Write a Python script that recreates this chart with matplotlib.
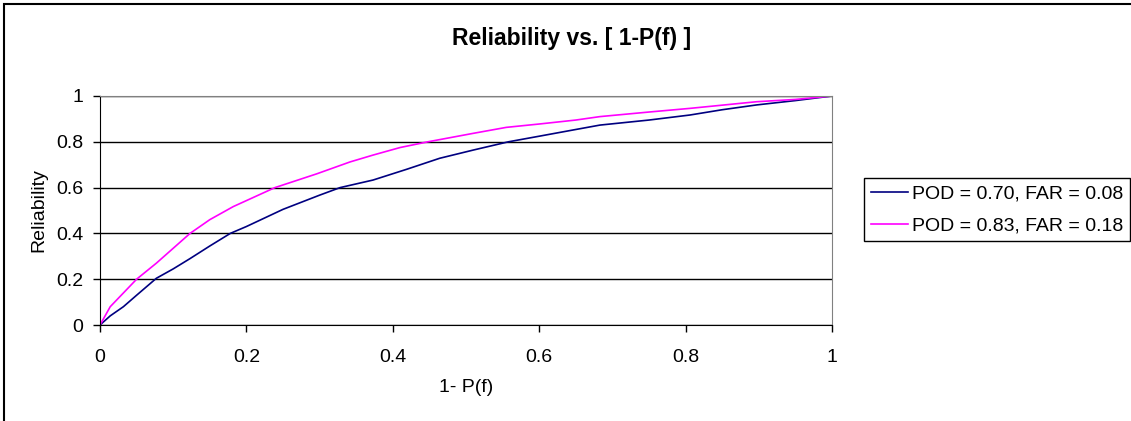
import matplotlib
matplotlib.use('Agg')
import matplotlib.pyplot as plt
from matplotlib.patches import Rectangle

plt.rcParams['font.family'] = ['Liberation Sans', 'DejaVu Sans']

# values
pf_a = [0, 0.014, 0.032, 0.05, 0.077, 0.1, 0.123, 0.15, 0.178, 0.2, 0.25, 0.3, 0.328,
        0.373, 0.419, 0.464, 0.51, 0.558, 0.601, 0.647, 0.683, 0.75, 0.806, 0.85, 0.897, 0.95, 1.0]
rel_a = [0, 0.04, 0.08, 0.13, 0.204, 0.245, 0.29, 0.345, 0.4, 0.43, 0.505, 0.567, 0.6,
         0.633, 0.68, 0.728, 0.764, 0.8, 0.825, 0.852, 0.873, 0.895, 0.917, 0.94, 0.961, 0.98, 1.0]

pf_b = [0, 0.014, 0.032, 0.05, 0.077, 0.1, 0.123, 0.15, 0.182, 0.239, 0.296, 0.3415,
        0.373, 0.41, 0.448, 0.51, 0.555, 0.601, 0.65, 0.683, 0.75, 0.806, 0.85, 0.897, 0.95, 1.0]
rel_b = [0, 0.08, 0.14, 0.2, 0.27, 0.335, 0.4, 0.46, 0.517, 0.6, 0.66, 0.712,
         0.742, 0.775, 0.8, 0.837, 0.863, 0.878, 0.895, 0.91, 0.93, 0.946, 0.96, 0.975, 0.985, 1.0]

labels = ['POD = 0.70, FAR = 0.08', 'POD = 0.83, FAR = 0.18']
ticks = [0, 0.2, 0.4, 0.6, 0.8, 1.0]
tick_labels = ['0', '0.2', '0.4', '0.6', '0.8', '1']

W, H = 1131, 421
fig = plt.figure(figsize=(W / 100, H / 100), dpi=100)
ax = fig.add_axes([100 / W, 1 - 325 / H, 732 / W, 229 / H])

ax.plot(pf_a, rel_a, color='#000080', lw=1.2, label=labels[0])
ax.plot(pf_b, rel_b, color='#FF00FF', lw=1.2, label=labels[1])

ax.set_xlim(0, 1)
ax.set_ylim(0, 1)
ax.set_xticks(ticks)
ax.set_xticklabels(tick_labels)
ax.set_yticks(ticks)
ax.set_yticklabels(tick_labels)
ax.tick_params(direction='out', length=5, width=1, colors='black', labelsize=14)
ax.tick_params(axis='y', pad=7)
ax.tick_params(axis='x', pad=12)
ax.yaxis.grid(True, color='black', lw=1)
ax.set_axisbelow(True)
for s in ['top', 'right']:
    ax.spines[s].set_color('#808080')
for s in ['left', 'bottom']:
    ax.spines[s].set_color('black')

ax.set_xlabel('1- P(f)', fontsize=14, labelpad=10)
ax.set_ylabel('Reliability', fontsize=14, labelpad=6)

fig.text(572 / W, 1 - 38 / H, 'Reliability vs. [ 1-P(f) ]', ha='center', va='center',
         fontsize=16.5, fontweight='bold')

fig.legend(loc='upper left', bbox_to_anchor=(864 / W, 1 - 178 / H), fontsize=14,
           frameon=True, fancybox=False, edgecolor='black', framealpha=1,
           handlelength=1.9, handletextpad=0.2, borderpad=0.35, labelspacing=0.75,
           borderaxespad=0)

# outer chart border (only left and top visible in the reference)
fig.patches.append(Rectangle((4 / W, -0.1), 1.2, 1.1 - 4 / H, transform=fig.transFigure,
                             fill=False, edgecolor='black', lw=1.5))

fig.savefig('out.png', dpi=100)
